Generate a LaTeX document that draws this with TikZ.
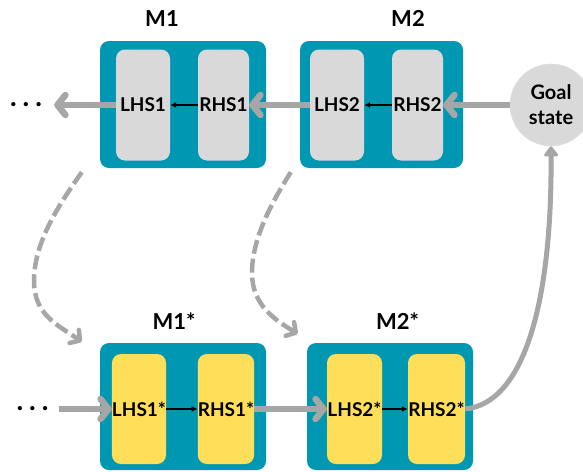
\documentclass[tikz,border=0pt]{standalone}
\usepackage{fontspec}
\setmainfont{Lato}
\usetikzlibrary{arrows.meta}

\definecolor{boxteal}{RGB}{0,151,178}
\definecolor{sidegray}{RGB}{217,217,217}
\definecolor{sideyellow}{RGB}{255,222,89}
\definecolor{flowgray}{RGB}{166,166,166}

\begin{document}
\begin{tikzpicture}[x=1pt,y=-1pt,
    mbox/.style={fill=boxteal, rounded corners=9pt, minimum width=166pt, minimum height=127pt, inner sep=0pt},
    side/.style={fill=sidegray, rounded corners=9pt, minimum width=54pt, minimum height=111pt, inner sep=0pt, font=\bfseries\fontsize{19}{22}\selectfont},
    sidestar/.style={side, fill=sideyellow, minimum height=110pt},
    title/.style={font=\bfseries\fontsize{22}{26}\selectfont, inner sep=0pt},
    dots/.style={font=\bfseries\fontsize{28}{30}\selectfont, inner sep=0pt},
    flow/.style={draw=flowgray, line width=6.5pt, -{Straight Barb[length=8pt,width=20pt,round]}},
    link/.style={draw=black, line width=1.4pt, -{Latex[length=6pt,width=6pt]}},
    jump/.style={draw=flowgray, line width=4.5pt, dash pattern=on 14pt off 5pt, -{Straight Barb[length=7pt,width=16pt,round]}}
    ]
                    \useasboundingbox (0,0) rectangle (583,471);

                    % original rules
                    \node[mbox] (M1) at (183,104.5) {};
                    \node[mbox, minimum width=163pt] (M2) at (381.5,104.5) {};
                    \node[side] (LHS1) at (143,105) {LHS1};
                    \node[side, minimum width=51pt] (RHS1) at (223.5,105) {RHS1};
                    \node[side] (LHS2) at (337,105) {LHS2};
                    \node[side, minimum width=51pt] (RHS2) at (417.5,105) {RHS2};
                    \node[title] (tM1) at (162,18.5) {M1};
                    \node[title] (tM2) at (408,18.5) {M2};

                    \node[circle, fill=sidegray, draw=white!88!black, line width=0.6pt, minimum size=82pt, inner sep=0pt, align=center, font=\bfseries\fontsize{20}{25}\selectfont] (goal) at (551,105) {Goal\\state};
                    \node[dots] (dotsL) at (26,105) {.\hspace{6pt}.\hspace{6pt}.};

                    % modified rules
                    \node[mbox] (M1s) at (183,406.5) {};
                    \node[mbox] (M2s) at (390,406.5) {};
                    \node[sidestar] (LHS1s) at (139,409) {LHS1*};
                    \node[sidestar, minimum width=56pt] (RHS1s) at (226,409) {RHS1*};
                    \node[sidestar, minimum width=55pt] (LHS2s) at (354.5,409) {LHS2*};
                    \node[sidestar, minimum width=57pt] (RHS2s) at (436.5,409) {RHS2*};
                    \node[title] (tM1s) at (174,321) {M1*};
                    \node[title] (tM2s) at (397.5,321) {M2*};
                    \node[dots] (dotsB) at (32.5,409) {.\hspace{6pt}.\hspace{6pt}.};

                    \draw[flow] (goal.west) -- (RHS2.east);
                    \draw[flow] (LHS2.west) -- (RHS1.east);
                    \draw[flow, shorten >=12pt] (LHS1.west) -- (dotsL.east);
                    \draw[link] (RHS1.west) -- (LHS1.east);
                    \draw[link] (RHS2.west) -- (LHS2.east);

                    \draw[flow, shorten <=10pt] (dotsB.east) -- (LHS1s.west);
                    \draw[flow] (RHS1s.east) -- (LHS2s.west);
                    \draw[link] (LHS1s.east) -- (RHS1s.west);
                    \draw[link] (LHS2s.east) -- (RHS2s.west);
                    \draw[draw=flowgray, line width=5pt, -{Triangle[length=11pt,width=16pt,round]}] (RHS2s.east) .. controls (525,403) and (552,300) .. (goal.south);

                    \draw[jump] ([shift={(-18,4)}]M1.south west) .. controls (55,210) and (34,245) .. (34,281) .. controls (34,315) and (58,325) .. ([shift={(-18,-1)}]M1s.north west);
                    \draw[jump] ([shift={(-9,4)}]M2.south west) .. controls (270,205) and (252,240) .. (252,273) .. controls (252,305) and (275,320) .. ([shift={(-9,-9)}]M2s.north west);

                \end{tikzpicture}
\end{document}
